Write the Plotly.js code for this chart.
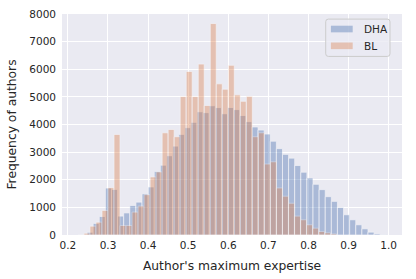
<!DOCTYPE html>
<html>
<head>
<meta charset="utf-8">
<script src="https://cdn.plot.ly/plotly-3.0.1.min.js"></script>
<style>html,body{margin:0;padding:0;background:#fff;}#chart{width:416px;height:279px;}</style>
</head>
<body>
<div id="chart"></div>
<script>
// ---- data ----
const seriesNames = ["DHA", "BL"];

// DHA histogram: bin layout and counts
const dhaBinStart = 0.2478;
const dhaBinWidth = 0.01523;
const dhaCounts = [100, 420, 670, 1700, 1650, 685, 800, 1070, 1190, 1490,
                   1740, 2300, 2527, 2870, 3218, 3642, 3885, 4079, 4460, 4430,
                   4680, 4612, 4390, 4615, 4540, 4327, 4103, 3910, 3800, 3655,
                   3395, 3127, 2920, 2782, 2515, 2273, 2067, 1836, 1642, 1388,
                   1218, 1000, 733, 551, 370, 224, 103, 42, 10];

// BL histogram: bin layout and counts
const blBinStart = 0.225;
const blBinWidth = 0.015;
const blCounts = [0, 65, 320, 465, 890, 1715, 3640, 345, 345, 830,
                  1048, 1460, 2103, 2285, 3700, 3820, 3558, 5012, 5921, 5012,
                  6188, 4690, 7655, 5473, 5279, 6145, 5073, 4840, 5020, 3558,
                  3700, 2570, 2650, 1703, 1405, 1150, 685, 552, 370, 248,
                  127, 80, 40];

const xTickVals = [0.2, 0.3, 0.4, 0.5, 0.6, 0.7, 0.8, 0.9, 1.0];
const yTickVals = [0, 1000, 2000, 3000, 4000, 5000, 6000, 7000, 8000];

// ---- build traces ----
function centers(start, width, n) {
  const c = [];
  for (let i = 0; i < n; i++) c.push(start + width * (i + 0.5));
  return c;
}

const font = "DejaVu Sans, Liberation Sans, sans-serif";
const textColor = "#262626";
const colors = ["#4C72B0", "#DD8452"];

const traces = [
  {
    type: "bar",
    name: seriesNames[0],
    x: centers(dhaBinStart, dhaBinWidth, dhaCounts.length),
    y: dhaCounts,
    width: dhaBinWidth,
    marker: { color: colors[0], line: { color: "#ffffff", width: 0.7 } },
    opacity: 0.4
  },
  {
    type: "bar",
    name: seriesNames[1],
    x: centers(blBinStart, blBinWidth, blCounts.length),
    y: blCounts,
    width: blBinWidth,
    marker: { color: colors[1], line: { color: "#ffffff", width: 0.7 } },
    opacity: 0.4
  }
];

// ---- matplotlib-style legend box (paper coordinates) ----
const lg = { x0: 0.7756, x1: 0.9647, y0: 0.808, y1: 0.977, rx: 0.008, ry: 0.012 };
const boxPath =
  "M " + (lg.x0 + lg.rx) + "," + lg.y1 +
  " L " + (lg.x1 - lg.rx) + "," + lg.y1 +
  " Q " + lg.x1 + "," + lg.y1 + " " + lg.x1 + "," + (lg.y1 - lg.ry) +
  " L " + lg.x1 + "," + (lg.y0 + lg.ry) +
  " Q " + lg.x1 + "," + lg.y0 + " " + (lg.x1 - lg.rx) + "," + lg.y0 +
  " L " + (lg.x0 + lg.rx) + "," + lg.y0 +
  " Q " + lg.x0 + "," + lg.y0 + " " + lg.x0 + "," + (lg.y0 + lg.ry) +
  " L " + lg.x0 + "," + (lg.y1 - lg.ry) +
  " Q " + lg.x0 + "," + lg.y1 + " " + (lg.x0 + lg.rx) + "," + lg.y1 + " Z";

const patchX0 = 0.7909, patchX1 = 0.8550;
const rowY = [0.932, 0.856];
const patchH = 0.015;

const shapes = [
  { type: "path", xref: "paper", yref: "paper", path: boxPath,
    fillcolor: "rgba(234,234,242,0.8)", line: { color: "#cccccc", width: 1 }, layer: "above" }
];
const annotations = [];
seriesNames.forEach((name, i) => {
  shapes.push({ type: "rect", xref: "paper", yref: "paper",
    x0: patchX0, x1: patchX1, y0: rowY[i] - patchH, y1: rowY[i] + patchH,
    fillcolor: colors[i], opacity: 0.4, line: { width: 0 }, layer: "above" });
  annotations.push({ xref: "paper", yref: "paper", x: 0.882, y: rowY[i],
    xanchor: "left", yanchor: "middle", text: name, showarrow: false,
    font: { family: font, size: 10.5, color: textColor } });
});

const layout = {
  width: 416,
  height: 279,
  margin: { l: 62, r: 14, t: 14, b: 44, pad: 0 },
  paper_bgcolor: "#ffffff",
  plot_bgcolor: "#EAEAF2",
  barmode: "overlay",
  bargap: 0,
  showlegend: false,
  font: { family: font, size: 10.5, color: textColor },
  xaxis: {
    range: [0.1853, 1.0332],
    tickvals: xTickVals,
    tickformat: ".1f",
    showgrid: true,
    gridcolor: "#ffffff",
    gridwidth: 1,
    zeroline: false,
    showline: false,
    ticks: "",
    ticklabelstandoff: 2,
    tickfont: { family: font, size: 10.5, color: textColor },
    title: { text: "Author's maximum expertise", font: { family: font, size: 12.3, color: textColor }, standoff: 11 }
  },
  yaxis: {
    range: [0, 8000],
    tickvals: yTickVals,
    showgrid: true,
    gridcolor: "#ffffff",
    gridwidth: 1,
    zeroline: false,
    showline: false,
    ticks: "",
    ticklabelstandoff: 5,
    tickfont: { family: font, size: 10.5, color: textColor },
    title: { text: "Frequency of authors", font: { family: font, size: 12.3, color: textColor }, standoff: 9 }
  },
  shapes: shapes,
  annotations: annotations
};

Plotly.newPlot("chart", traces, layout, { displayModeBar: false, staticPlot: true });
</script>
</body>
</html>
